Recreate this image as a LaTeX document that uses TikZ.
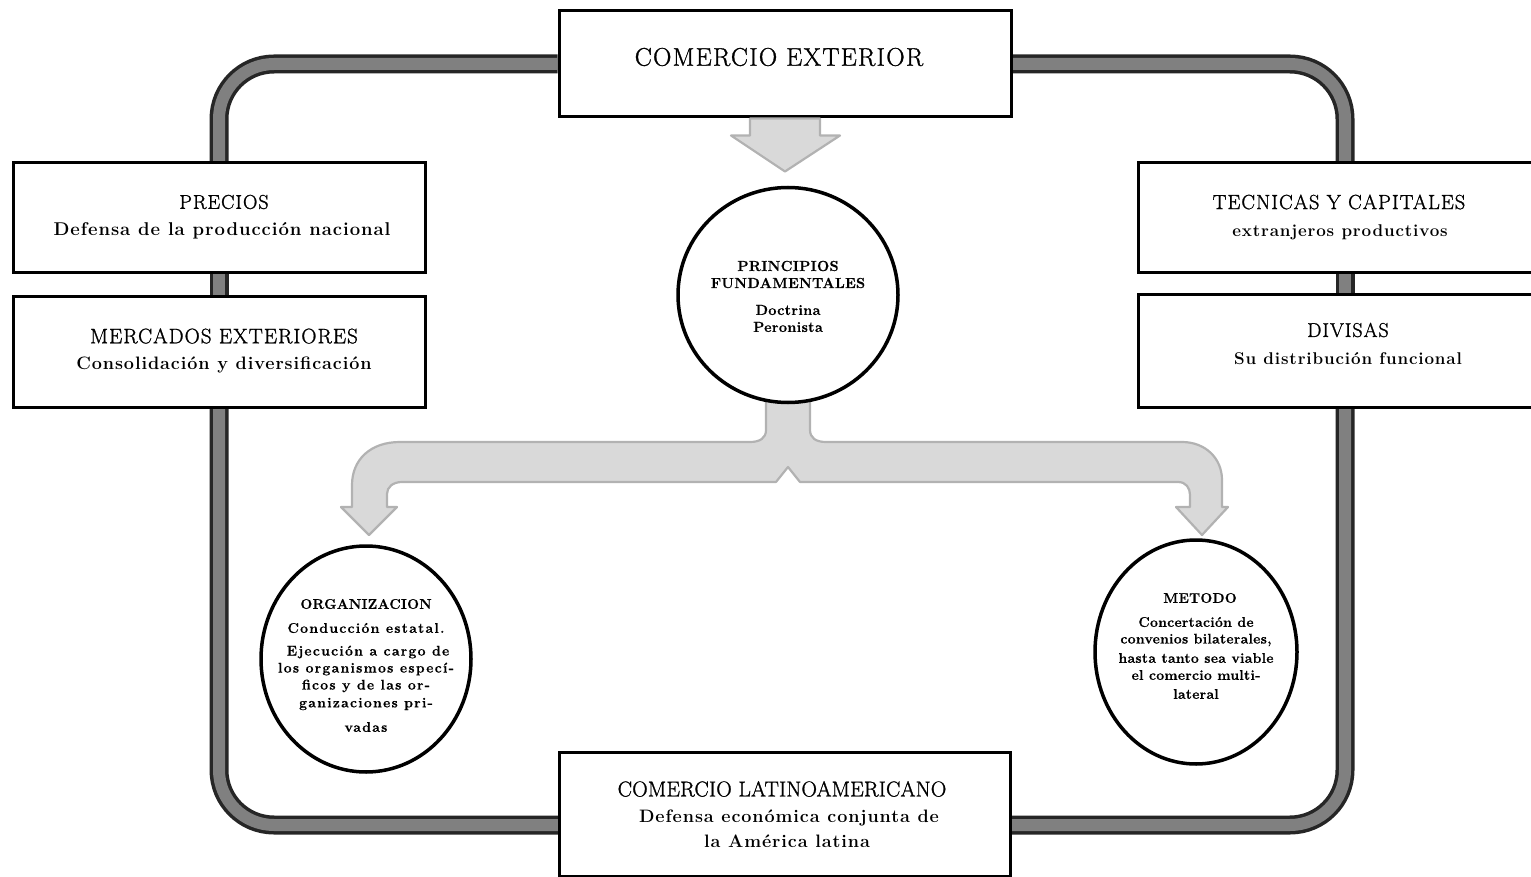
\documentclass[tikz,border=0pt]{standalone}
\usepackage{fontspec}
\setmainfont{Latin Modern Roman}
\newfontfamily\spc{Latin Modern Roman}[LetterSpace=5]
\newfontfamily\spch{Latin Modern Roman}[LetterSpace=5, FakeBold=1.2]
\newfontfamily\spcn{Latin Modern Roman}[LetterSpace=1, FakeBold=1.2]
\newfontfamily\spcc{Latin Modern Roman}[LetterSpace=2, FakeBold=0.6]
\newfontfamily\spcw{Latin Modern Roman}[LetterSpace=9, FakeBold=0.6]
\usetikzlibrary{shapes.geometric,backgrounds}
\tikzset{
  box/.style={draw=black, line width=3pt, fill=white, inner sep=0pt},
  circ/.style={ellipse, draw=black, line width=3.5pt, fill=white, inner sep=0pt},
  band/.style={line width=12pt, draw=black!50, rounded corners=55pt,
               preaction={draw=black!85, line width=19pt}},
  flow/.style={fill=gray!30, draw=gray!60, line width=2.2pt, line join=round},
  hdr/.style={inner sep=0pt, font=\spch\fontsize{20}{24}\selectfont},
  sub/.style={inner sep=0pt, font=\spc\bfseries\fontsize{18}{21}\selectfont},
  subr/.style={inner sep=0pt, font=\spc\bfseries\fontsize{17}{20}\selectfont},
  ccap/.style={inner sep=0pt, font=\spcc\bfseries\fontsize{14.5}{17}\selectfont},
  ctxt/.style={inner sep=0pt, font=\spcc\bfseries\fontsize{14.5}{17}\selectfont},
  ctxw/.style={inner sep=0pt, font=\spcw\bfseries\fontsize{14}{17}\selectfont},
}
\begin{document}
\begin{tikzpicture}[x=1pt,y=-1pt]
\useasboundingbox (0,0) rectangle (1531,877);

% boxes
\node[box, minimum width=452pt, minimum height=106pt] (ce) at (785,64) {};
\node[box, minimum width=412pt, minimum height=110pt] (prec) at (219,218) {};
\node[box, minimum width=412pt, minimum height=110pt] (merc) at (219,352) {};
\node[box, minimum width=414pt, minimum height=110pt] (tec) at (1345,218) {};
\node[box, minimum width=414pt, minimum height=112pt] (div) at (1345,351) {};
\node[box, minimum width=451pt, minimum height=124pt] (cl) at (785,814) {};

% circles
\node[circ, minimum width=220pt, minimum height=215pt] (pr) at (788,295) {};
\node[circ, minimum width=210pt, minimum height=226pt] (org) at (366,659) {};
\node[circ, minimum width=202pt, minimum height=224pt] (met) at (1196,652) {};

\coordinate (lb) at (219,825);

\begin{scope}[on background layer]
  % outer loop
  \draw[band] (ce.west) -| (prec.north);
  \draw[band] (prec.south) -- (merc.north);
  \draw[band] (merc.south) |- (cl.west |- lb);
  \draw[band] (cl.east |- lb) -| (div.south);
  \draw[band] (div.north) -- (tec.south);
  \draw[band] (tec.north) |- (ce.east);
  % branching arrow below the principles
  \draw[flow] (766,398) -- (766,430) .. controls (766,438) and (760,442) .. (750,442)
    -- (400,442) .. controls (370,442) and (352,460) .. (352,485)
    -- (352,507) -- (341,507) -- (369,535) -- (397,507) -- (387,507)
    -- (387,494) .. controls (387,487) and (393,482) .. (402,482)
    -- (776,482) -- (788,467) -- (800,482)
    -- (1178,482) .. controls (1186,482) and (1190,488) .. (1190,495)
    -- (1190,507) -- (1176,507) -- (1202,535) -- (1228,507) -- (1222,507)
    -- (1222,480) .. controls (1222,458) and (1205,442) .. (1182,442)
    -- (826,442) .. controls (816,442) and (810,438) .. (810,430) -- (810,398);
\end{scope}

% arrow from COMERCIO EXTERIOR to the principles
\draw[flow] ([xshift=-35pt]ce.south) -- ++(0,17) -- ++(-19,0) -- ++(54,36)
  -- ++(55,-36) -- ++(-20,0) -- ++(0,-17) -- cycle;

% texts
\node[hdr, font=\spch\fontsize{25.5}{30}\selectfont] (t1) at (779,57) {COMERCIO EXTERIOR};

\node[hdr] (t2) at (224,202) {PRECIOS};
\node[sub, font=\spc\bfseries\fontsize{18.5}{22}\selectfont] (t3) at (222,231) {Defensa de la producción nacional};
\node[hdr, font=\spch\fontsize{21}{25}\selectfont] (t4) at (224,336) {MERCADOS EXTERIORES};
\node[sub] (t5) at (224,365) {Consolidación y diversificación};

\node[hdr, font=\spch\fontsize{20.5}{25}\selectfont] (t6) at (1339,202) {TECNICAS Y CAPITALES};
\node[subr] (t7) at (1340,232) {extranjeros productivos};
\node[hdr] (t8) at (1348,330) {DIVISAS};
\node[subr] (t9) at (1348,359) {Su distribución funcional};

\node[ccap] (p1) at (788,266) {PRINCIPIOS};
\node[ccap] (p2) at (788,283) {FUNDAMENTALES};
\node[ctxt] (p3) at (788,310) {Doctrina};
\node[ctxt] (p4) at (788,327) {Peronista};

\node[ccap, font=\spcc\bfseries\fontsize{14}{17}\selectfont] (o1) at (366,604) {ORGANIZACION};
\node[ctxw] (o2) at (366,628) {Conducción estatal.};
\node[ctxw] (o3) at (368,652) {Ejecución a cargo de};
\node[ctxw] (o4) at (366,669) {los organismos especí-};
\node[ctxw] (o5) at (366,686) {ficos y de las or-};
\node[ctxw] (o6) at (366,704) {ganizaciones pri-};
\node[ctxw] (o7) at (366,727) {vadas};

\node[ccap, font=\spcc\bfseries\fontsize{14}{17}\selectfont] (m1) at (1200,598) {METODO};
\node[ctxt, font=\spcc\bfseries\fontsize{14}{17}\selectfont] (m2) at (1196,622) {Concertación de};
\node[ctxt, font=\spcc\bfseries\fontsize{14}{17}\selectfont] (m3) at (1196,640) {convenios bilaterales,};
\node[ctxt, font=\spcc\bfseries\fontsize{14}{17}\selectfont] (m4) at (1196,658) {hasta tanto sea viable};
\node[ctxt, font=\spcc\bfseries\fontsize{14}{17}\selectfont] (m5) at (1196,675) {el comercio multi-};
\node[ctxt, font=\spcc\bfseries\fontsize{14}{17}\selectfont] (m6) at (1196,694) {lateral};

\node[inner sep=0pt, font=\spcn\fontsize{21.5}{25}\selectfont] (c1) at (782,789) {COMERCIO LATINOAMERICANO};
\node[sub] (c2) at (789,818) {Defensa económica conjunta de};
\node[sub] (c3) at (787,841) {la América latina};
\end{tikzpicture}
\end{document}
